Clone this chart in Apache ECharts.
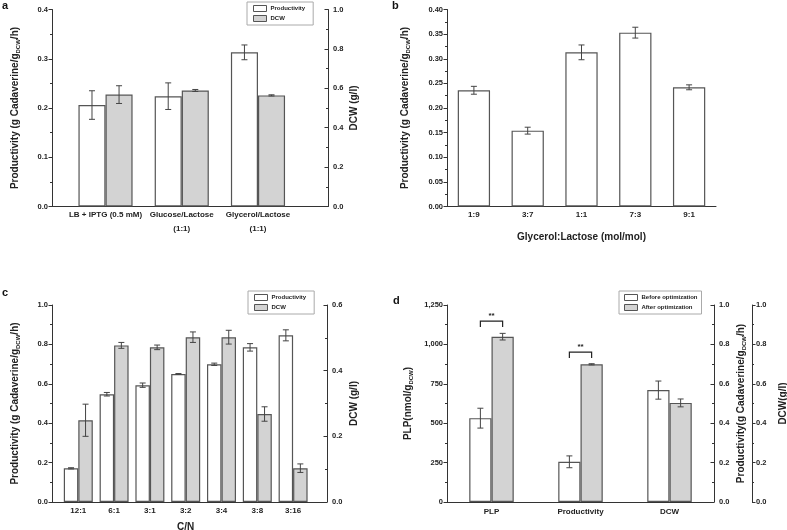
<!DOCTYPE html>
<html><head><meta charset="utf-8">
<script src="https://cdn.jsdelivr.net/npm/echarts@6/dist/echarts.min.js"></script>
<style>html,body{margin:0;padding:0;background:#fff}#c{width:787px;height:530px}</style>
</head><body><div id="c"></div>
<script>
// ---------- Panel a ----------
const catA = ['LB + IPTG (0.5 mM)', 'Glucose/Lactose\n(1:1)', 'Glycerol/Lactose\n(1:1)'];
const prodA = [0.206, 0.224, 0.313];
const prodErrA = [0.029, 0.027, 0.015];
const dcwA = [0.568, 0.589, 0.564];
const dcwErrA = [0.045, 0.005, 0.003];
// ---------- Panel b ----------
const catB = ['1:9', '3:7', '1:1', '7:3', '9:1'];
const prodB = [0.236, 0.154, 0.313, 0.353, 0.242];
const prodErrB = [0.008, 0.007, 0.015, 0.011, 0.005];
// ---------- Panel c ----------
const catC = ['12:1', '6:1', '3:1', '3:2', '3:4', '3:8', '3:16'];
const prodC = [0.171, 0.547, 0.593, 0.650, 0.699, 0.785, 0.846];
const prodErrC = [0.003, 0.009, 0.011, 0.002, 0.006, 0.019, 0.028];
const dcwC = [0.249, 0.477, 0.471, 0.502, 0.502, 0.268, 0.103];
const dcwErrC = [0.049, 0.009, 0.007, 0.016, 0.021, 0.022, 0.013];
// ---------- Panel d ----------
const catD = ['PLP', 'Productivity', 'DCW'];
const beforeD = [532, 0.204, 0.568];
const beforeErrD = [63, 0.030, 0.046];
const afterD = [1049, 0.699, 0.503];
const afterErrD = [21, 0.003, 0.020];
const sigLabelD = ['**', '**'];
const sigHeightD = [1148, 0.761]; // bracket heights (PLP axis, productivity axis)

const FONT = 'Liberation Sans';
const AX = '#333';
const TXT = '#222';
const WHITE = '#ffffff', GREY = '#d3d3d3', EDGE = '#555';

function rich() {
  return {
    t: {fontSize: 10, fontWeight: 'bold', fontFamily: FONT, color: TXT, lineHeight: 12},
    s: {fontSize: 6, fontWeight: 'bold', fontFamily: FONT, color: TXT, lineHeight: 12, verticalAlign: 'bottom'}
  };
}
const PROD_TITLE = '{t|Productivity (g Cadaverine/g}{s|DCW}{t|/h)}';

function yAx(grid, pos, min, max, interval, opts) {
  opts = opts || {};
  return {
    type: 'value', gridIndex: grid, position: pos, min: min, max: max, interval: interval,
    show: opts.hidden ? false : true,
    offset: opts.offset || 0,
    splitLine: {show: false},
    axisLine: {show: true, onZero: false, lineStyle: {color: AX, width: 1}},
    axisTick: {show: true, inside: !!opts.inside, length: 3.5, lineStyle: {color: AX, width: 1}},
    minorTick: {show: true, splitNumber: 2, length: 2, lineStyle: {color: AX, width: 1}},
    axisLabel: {fontSize: 7.5, fontWeight: 'bold', fontFamily: FONT, color: TXT,
      margin: opts.margin || 4, formatter: opts.fmt},
    name: opts.name || '', nameLocation: 'middle', nameGap: opts.gap || 30,
    nameTextStyle: {rich: rich(), fontSize: 10, fontWeight: 'bold', fontFamily: FONT, color: TXT}
  };
}
function xCat(grid, data, opts) {
  opts = opts || {};
  return {
    type: 'category', gridIndex: grid, data: data, position: 'bottom',
    show: opts.hidden ? false : true,
    axisLine: {show: !!opts.line, onZero: false, lineStyle: {color: AX, width: 1}},
    axisTick: {show: false},
    axisLabel: {fontSize: 8, fontWeight: 'bold', fontFamily: FONT, color: TXT,
      margin: opts.margin || 4, lineHeight: opts.lh || 10, interval: 0},
    name: opts.name || '', nameLocation: 'middle', nameGap: opts.gap || 25,
    nameTextStyle: {fontSize: 10, fontWeight: 'bold', fontFamily: FONT, color: TXT}
  };
}
function xFrame(grid) {
  return {
    type: 'value', gridIndex: grid, min: 0, max: 1, position: 'bottom',
    splitLine: {show: false}, axisTick: {show: false}, axisLabel: {show: false},
    axisLine: {show: true, onZero: false, lineStyle: {color: AX, width: 1}}
  };
}
const f1 = v => v.toFixed(1);
const f2 = v => v.toFixed(2);
const fc = v => v.toLocaleString('en-US');

function bar(name, x, y, data, color, width) {
  return {
    type: 'bar', name: name, xAxisIndex: x, yAxisIndex: y, data: data,
    barWidth: width, barGap: '0%',
    itemStyle: {color: color, borderColor: EDGE, borderWidth: 1.2},
    emphasis: {disabled: true}, silent: true, z: 2
  };
}
function errBars(x, y, vals, errs, offsetFrac) {
  return {
    type: 'custom', xAxisIndex: x, yAxisIndex: y, silent: true, z: 5,
    data: vals.map((v, i) => (v === '-' ? null : [i, v, errs[i]])).filter(d => d),
    renderItem: function (params, api) {
      const i = api.value(0), v = api.value(1), e = api.value(2);
      const band = api.size([1, 0])[0];
      const hi = api.coord([i, v + e]);
      const lo = api.coord([i, v - e]);
      const cx = hi[0] + band * offsetFrac;
      const cap = 3;
      const st = {stroke: '#444', lineWidth: 1};
      return {type: 'group', children: [
        {type: 'line', shape: {x1: cx, y1: hi[1], x2: cx, y2: lo[1]}, style: st},
        {type: 'line', shape: {x1: cx - cap, y1: hi[1], x2: cx + cap, y2: hi[1]}, style: st},
        {type: 'line', shape: {x1: cx - cap, y1: lo[1], x2: cx + cap, y2: lo[1]}, style: st}
      ]};
    }
  };
}
function sigBracket(x, y, catIndex, height, label, halfFrac) {
  return {
    type: 'custom', xAxisIndex: x, yAxisIndex: y, silent: true, z: 6,
    data: [[catIndex, height]],
    renderItem: function (params, api) {
      const band = api.size([1, 0])[0];
      const p = api.coord([api.value(0), api.value(1)]);
      const x1 = p[0] - band * halfFrac, x2 = p[0] + band * halfFrac;
      return {type: 'group', children: [
        {type: 'polyline', shape: {points: [[x1, p[1] + 6], [x1, p[1]], [x2, p[1]], [x2, p[1] + 6]]},
          style: {stroke: '#222', lineWidth: 1.2, fill: null}},
        {type: 'text', x: p[0], y: p[1] - 1,
          style: {text: label, fontSize: 8, fontWeight: 'bold', fontFamily: FONT, fill: TXT,
            align: 'center', verticalAlign: 'bottom'}}
      ]};
    }
  };
}
const onlyAt = (arr, k) => arr.map((v, i) => (i === k ? v : '-'));

const legendBase = {
  orient: 'vertical', icon: 'rect', itemWidth: 13, itemHeight: 6, itemGap: 3,
  selectedMode: false, borderColor: '#aaa', borderWidth: 1, borderRadius: 0,
  textStyle: {fontSize: 6, fontWeight: 'bold', fontFamily: FONT, color: TXT, padding: [0, 0, 0, -1]},
  itemStyle: {borderColor: EDGE, borderWidth: 1}
};

const option = {
  animation: false,
  backgroundColor: '#fff',
  textStyle: {fontFamily: FONT},
  grid: [
    {left: 52, top: 9.5, width: 276, height: 197, outerBoundsMode: 'none'},   // 0 a frame
    {left: 67.4, top: 9.5, width: 228.7, height: 197, outerBoundsMode: 'none'}, // 1 a bars
    {left: 447, top: 9.5, width: 269, height: 197, outerBoundsMode: 'none'},  // 2 b
    {left: 52, top: 305, width: 275, height: 197, outerBoundsMode: 'none'},   // 3 c frame
    {left: 60.4, top: 305, width: 250.6, height: 197, outerBoundsMode: 'none'}, // 4 c bars
    {left: 447, top: 305, width: 267, height: 197, outerBoundsMode: 'none'}   // 5 d
  ],
  xAxis: [
    xFrame(0),
    xCat(1, catA, {margin: 1.5, lh: 14}),
    xCat(2, catB, {line: true, margin: 3.5, name: 'Glycerol:Lactose (mol/mol)', gap: 26}),
    xFrame(3),
    xCat(4, catC, {margin: 4, name: 'C/N', gap: 20}),
    xCat(5, catD, {line: true, margin: 5}),
    xCat(5, catD, {hidden: true}),
    xCat(5, catD, {hidden: true})
  ],
  yAxis: [
    yAx(0, 'left', 0, 0.4, 0.1, {fmt: f1, name: PROD_TITLE, gap: 31}),
    yAx(0, 'right', 0, 1.0, 0.2, {fmt: f1, inside: true, margin: 5, name: '{t|DCW (g/l)}', gap: 20}),
    yAx(1, 'left', 0, 0.4, 0.1, {hidden: true}),
    yAx(1, 'right', 0, 1.0, 0.2, {hidden: true}),
    yAx(2, 'left', 0, 0.4, 0.05, {fmt: f2, name: PROD_TITLE, gap: 36}),
    yAx(3, 'left', 0, 1.0, 0.2, {fmt: f1, name: PROD_TITLE, gap: 31}),
    yAx(3, 'right', 0, 0.6, 0.2, {fmt: f1, inside: true, margin: 5, name: '{t|DCW (g/l)}', gap: 21}),
    yAx(4, 'left', 0, 1.0, 0.2, {hidden: true}),
    yAx(4, 'right', 0, 0.6, 0.2, {hidden: true}),
    yAx(5, 'left', 0, 1250, 250, {fmt: fc, name: '{t|PLP(nmol/g}{s|DCW}{t|)}', gap: 33}),
    yAx(5, 'right', 0, 1.0, 0.2, {fmt: f1, inside: true, margin: 5,
      name: '{t|Productivity(g Cadaverine/g}{s|DCW}{t|/h)}', gap: 21}),
    yAx(5, 'right', 0, 1.0, 0.2, {fmt: f1, offset: 38, margin: 4, name: '{t|DCW(g/l)}', gap: 25})
  ],
  legend: [
    Object.assign({}, legendBase, {left: 247, top: 2, padding: [3, 8, 3, 6], data: ['Productivity', 'DCW']}),
    Object.assign({}, legendBase, {left: 248, top: 291, padding: [3, 8, 3, 6], data: ['Productivity', 'DCW']}),
    Object.assign({}, legendBase, {left: 619, top: 291, padding: [3, 4, 3, 5], data: ['Before optimization', 'After optimization']})
  ],
  graphic: [
    {type: 'text', left: 2, top: 0, style: {text: 'a', fontSize: 11, fontWeight: 'bold', fontFamily: FONT, fill: '#111'}},
    {type: 'text', left: 392, top: 0, style: {text: 'b', fontSize: 11, fontWeight: 'bold', fontFamily: FONT, fill: '#111'}},
    {type: 'text', left: 2, top: 287, style: {text: 'c', fontSize: 11, fontWeight: 'bold', fontFamily: FONT, fill: '#111'}},
    {type: 'text', left: 393, top: 295, style: {text: 'd', fontSize: 11, fontWeight: 'bold', fontFamily: FONT, fill: '#111'}}
  ],
  series: [
    // a
    bar('Productivity', 1, 2, prodA, WHITE, '35.5%'),
    bar('DCW', 1, 3, dcwA, GREY, '35.5%'),
    errBars(1, 2, prodA, prodErrA, -0.1775),
    errBars(1, 3, dcwA, dcwErrA, 0.1775),
    // b
    bar('Productivity b', 2, 4, prodB, WHITE, '60%'),
    errBars(2, 4, prodB, prodErrB, 0),
    // c
    bar('Productivity', 4, 7, prodC, WHITE, '40.5%'),
    bar('DCW', 4, 8, dcwC, GREY, '40.5%'),
    errBars(4, 7, prodC, prodErrC, -0.2025),
    errBars(4, 8, dcwC, dcwErrC, 0.2025),
    // d
    bar('Before optimization', 5, 9, onlyAt(beforeD, 0), WHITE, '25%'),
    bar('After optimization', 5, 9, onlyAt(afterD, 0), GREY, '25%'),
    bar('Before optimization', 6, 10, onlyAt(beforeD, 1), WHITE, '25%'),
    bar('After optimization', 6, 10, onlyAt(afterD, 1), GREY, '25%'),
    bar('Before optimization', 7, 11, onlyAt(beforeD, 2), WHITE, '25%'),
    bar('After optimization', 7, 11, onlyAt(afterD, 2), GREY, '25%'),
    errBars(5, 9, onlyAt(beforeD, 0), beforeErrD, -0.125),
    errBars(5, 9, onlyAt(afterD, 0), afterErrD, 0.125),
    errBars(6, 10, onlyAt(beforeD, 1), beforeErrD, -0.125),
    errBars(6, 10, onlyAt(afterD, 1), afterErrD, 0.125),
    errBars(7, 11, onlyAt(beforeD, 2), beforeErrD, -0.125),
    errBars(7, 11, onlyAt(afterD, 2), afterErrD, 0.125),
    sigBracket(5, 9, 0, sigHeightD[0], sigLabelD[0], 0.125),
    sigBracket(6, 10, 1, sigHeightD[1], sigLabelD[1], 0.125)
  ]
};
const chart = echarts.init(document.getElementById('c'), null, {renderer: 'canvas', width: 787, height: 530});
chart.setOption(option);
</script>
</body></html>
